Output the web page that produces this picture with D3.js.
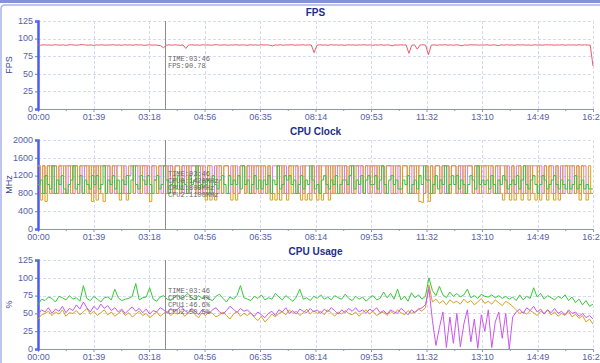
<!DOCTYPE html>
<html>
<head>
<meta charset="utf-8">
<title>Perf monitor</title>
<script src="https://cdn.jsdelivr.net/npm/d3@7"></script>
<style>
body{ margin:0; background:#fff; }
svg{ display:block; }
.tick-label{ font-family:"Liberation Sans", sans-serif; font-size:9px; fill:#5561a8; }
.title{ font-family:"Liberation Sans", sans-serif; font-size:10px; font-weight:bold; fill:#1e2e86; }
.ylab{ font-family:"Liberation Sans", sans-serif; font-size:9px; fill:#3a4a9a; }
.tip{ font-family:"Liberation Mono", monospace; font-size:7px; fill:#666; }
.grid{ stroke:#d6d9f2; stroke-width:1; stroke-dasharray:3,2; }
.series{ fill:none; stroke-width:1; }
</style>
</head>
<body>
<div id="chart"></div>
<script>
var W = 600, H = 363;
var totalSec = 988;     // 16:28
var xTickLabels = ["00:00","01:39","03:18","04:56","06:35","08:14","09:53","11:32","13:10","14:49","16:28"];
var cursorTime = 226;   // 03:46

// FPS (one sample every ~5 s)
var fpsValues = [
  91.0,90.6,91.2,90.8,91.1,90.5,91.3,90.9,90.7,91.1,90.4,91.0,91.4,90.8,90.6,91.2,91.5,90.9,90.7,91.0,
  90.3,91.1,90.8,91.2,90.6,91.0,90.9,91.3,90.7,91.1,90.5,91.2,90.8,91.0,90.6,91.3,90.9,91.1,90.4,90.8,
  91.2,90.7,91.0,90.5,89.9,87.0,90.78,91.1,90.6,91.2,90.8,90.4,91.0,86.0,90.9,91.2,90.7,91.0,90.5,91.3,
  90.8,91.1,90.6,91.0,91.4,90.7,90.9,91.2,90.5,91.0,90.8,91.3,90.6,91.1,90.9,90.4,91.2,90.8,91.0,90.6,
  91.3,90.9,91.1,90.7,89.6,91.0,90.8,91.2,90.5,91.1,90.9,91.3,90.6,91.0,90.8,91.2,90.7,91.1,90.9,80.0,
  90.6,91.2,90.8,91.0,90.5,91.3,90.9,91.1,90.7,91.0,90.4,91.2,90.8,91.1,90.6,91.0,90.9,91.3,90.7,91.1,
  90.5,91.0,90.8,91.2,90.6,91.1,90.9,89.8,91.0,90.7,91.2,90.8,91.0,79.0,90.5,91.1,85.0,90.9,91.2,90.7,
  77.0,90.8,91.1,90.6,91.0,90.9,91.3,90.7,91.1,90.5,91.2,90.8,89.7,91.0,90.6,91.3,90.9,91.1,90.7,91.0,
  90.8,91.2,90.5,91.0,90.9,89.9,91.1,90.7,91.3,90.8,91.0,90.6,91.2,90.9,91.1,90.7,91.0,90.5,91.2,90.8,
  91.0,90.6,91.3,90.9,91.1,90.7,91.0,90.8,91.2,90.6,91.1,90.9,91.0,90.7,91.3,90.8,91.1,90.9,90.7,61.0
];

// CPU clock, MHz (one sample every ~4.1 s)
var clockCpu0 = [
  1420,650,1420,620,1420,800,1420,1420,800,1420,1420,800,
  1420,1420,800,1420,1420,800,1420,1420,1420,800,1420,620,
  1420,650,1420,800,620,1420,1420,800,1420,1420,800,650,
  1420,800,650,1420,1420,800,1420,1420,800,1420,1420,800,
  620,1420,1420,800,1420,1420,1420,800,1420,1420,800,1420,
  1420,800,1420,1420,800,1420,1420,1420,800,1420,1420,800,
  650,1420,650,800,650,1420,1420,800,1420,1420,800,650,
  1420,650,800,1420,1420,800,1420,1420,800,1420,1420,800,
  1420,1420,800,1420,650,800,650,1420,650,1420,800,650,
  1420,800,1420,1420,800,650,1420,650,800,650,1420,800,
  650,1420,650,800,1420,650,1420,800,1420,1420,800,1420,
  1420,800,1420,1420,800,1420,1420,1420,800,1420,1420,800,
  1420,1420,800,1420,1420,800,1420,1420,1420,800,1420,1420,
  800,1420,1420,800,1420,1420,800,1420,620,600,800,1420,
  620,1420,800,1420,1420,800,1420,1420,1420,800,1420,1420,
  800,1420,1420,800,1420,1420,1420,800,1420,1420,800,1420,
  1420,800,1420,1420,800,1420,1420,800,650,1420,800,650,
  1420,650,800,1420,650,800,1420,650,1420,800,650,1420,
  650,800,1420,650,1420,800,650,1420,650,800,1420,1420,
  800,1420,1420,800,1420,650,1420,800,650,1420,800,800
];
var clockCpu1 = [
  1420,800,1420,800,1420,1420,800,1420,800,1420,800,1420,
  800,1420,1420,800,1420,800,1420,800,1420,1420,800,1420,
  800,1420,800,1420,1420,800,1420,800,1420,800,1420,1420,
  800,1420,800,1200,1420,800,1420,800,1420,1420,800,1420,
  800,1420,1100,800,1420,800,1420,1420,800,1420,800,1420,
  1420,800,1420,800,1420,800,1420,1420,800,1420,800,1420,
  800,1420,1420,800,1420,800,1420,800,1420,1420,800,1420,
  800,1420,800,1420,1420,800,1420,800,1420,800,1420,1420,
  800,1420,800,1420,800,1420,1420,800,1420,800,1420,800,
  1420,1420,800,1420,800,1420,800,1420,1420,800,1420,800,
  1420,800,1420,1420,800,1420,800,1420,800,1420,1420,800,
  1420,800,1420,800,1420,1420,800,1420,800,1420,800,1420,
  1420,800,1420,800,1420,800,1420,1420,800,1420,800,1420,
  800,1420,1420,800,1420,800,1420,800,1420,1420,800,1420,
  800,1420,800,1420,1420,800,1420,800,1420,800,1420,1420,
  800,1420,800,1420,800,1420,1420,800,1420,800,1420,800,
  1420,1420,800,1420,800,1420,800,1420,1420,800,1420,800,
  1420,800,1420,1420,800,1420,800,1420,800,1420,1420,800,
  1420,800,1420,800,1420,1420,800,1420,800,1420,800,1420,
  1420,800,1420,800,1420,800,1420,1420,800,800,800,800
];
var clockCpu2 = [
  1000,1100,800,1200,1000,900,1420,800,1100,1000,1200,900,
  800,1000,1100,1420,900,1000,1200,800,1100,1000,900,1200,
  1000,1200,900,1000,1420,800,1100,1000,1200,900,1100,800,
  1100,1000,1200,800,1100,1420,1000,900,1200,1100,1000,1200,
  1000,800,1100,1200,900,1000,1420,1100,800,1000,1100,900,
  1200,900,1100,1000,800,1200,1000,1100,1420,900,1000,1100,
  1000,1100,800,1200,1000,900,1100,1200,1000,800,1200,1000,
  1100,1000,1200,900,1420,1000,1100,800,1000,1200,900,1100,
  900,1100,1000,1200,800,1100,1000,1420,900,1000,1200,1100,
  1200,1000,1100,800,1000,1200,900,1100,1000,1420,1100,900,
  1000,800,1100,1200,1000,900,1100,1000,1200,800,1000,1100,
  1100,1000,1200,1420,900,1100,1000,1200,800,1100,1200,1000,
  1000,1200,900,1100,1420,1000,800,1100,1200,1000,1100,900,
  900,1100,1000,1200,800,1000,1100,900,1200,1000,1420,1100,
  1100,800,1000,1200,900,1100,1000,1420,800,1000,1200,1000,
  1200,900,1100,1000,800,1000,1200,1100,900,1420,1000,1100,
  1000,1100,900,1200,1000,800,1100,1000,1200,1100,900,1000,
  1100,1000,1200,900,1100,1420,1000,900,1100,1200,1000,800,
  1000,1200,1100,900,1000,1100,1200,1000,900,1100,1000,900,
  1100,900,1000,1200,900,1000,1100,900,1000,900,900,900
];

// CPU usage, % (one sample every ~6.2 s)
var usageCpu0 = [
  62,70,68,73,71,66,74,72,69,75,
  70,72,67,89,71,68,74,70,66,72,
  73,69,84,72,68,70,71,74,92,69,
  72,73,86,70,67,73,75,70,68,72,
  76,70,74,78,72,69,75,71,73,70,
  68,74,77,71,66,73,70,75,89,72,
  70,68,74,71,76,69,72,70,78,73,
  69,75,71,67,73,84,70,72,68,74,
  71,76,70,73,69,75,72,70,77,71,
  68,74,70,73,67,72,75,69,71,80,
  72,78,70,84,69,74,67,79,72,76,
  70,74,100,82,75,88,76,72,80,74,
  78,73,76,84,72,75,71,77,74,73,
  76,72,75,71,74,70,73,68,76,69,
  74,71,86,73,78,70,75,72,69,74,
  71,76,68,73,65,70,62,68,60,63
];
var usageCpu1 = [
  48,55,52,58,50,56,53,60,51,57,
  54,62,56,66,58,52,60,55,63,57,
  61,54,58,52,56,50,55,59,53,57,
  51,56,49,54,52,58,55,50,57,53,
  56,60,54,51,57,53,48,55,52,50,
  55,58,52,49,54,60,56,51,57,53,
  55,50,46,52,48,44,50,53,47,55,
  52,58,50,54,49,56,53,51,57,52,
  55,50,56,52,58,54,49,55,51,57,
  53,58,52,55,50,56,53,58,51,54,
  49,55,52,50,57,53,48,55,51,56,
  58,62,85,40,5,30,52,2,45,8,
  50,3,35,55,10,42,1,48,25,55,
  2,38,52,15,50,0,45,52,56,50,
  58,54,60,52,56,49,55,51,57,50,
  53,48,55,50,52,46,50,44,47,42
];
var usageCpu2 = [
  42,48,50,53,47,52,49,55,46,51,
  50,54,48,52,57,49,53,47,51,55,
  48,52,46,50,54,47,51,45,49,53,
  47,50,44,48,52,46,50,53,47,51,
  49,53,46,50,55,48,44,51,47,52,
  50,45,48,52,47,42,49,53,46,50,
  47,51,44,40,46,38,43,49,45,50,
  52,48,55,50,53,47,51,56,49,54,
  50,53,48,55,51,46,52,49,54,50,
  48,52,46,51,55,49,53,47,50,52,
  47,53,49,55,51,48,54,50,52,56,
  53,58,90,66,70,64,68,62,69,65,
  67,63,70,65,68,62,66,71,64,67,
  63,69,65,61,67,64,60,55,50,52,
  49,54,51,47,53,50,55,48,52,46,
  50,47,53,45,49,43,47,38,42,35
];

var fpsTip   = ["TIME:03:46", "FPS:90.78"];
var clockTip = ["TIME:03:46", "CPU0:1420MHz", "CPU1:800MHz", "CPU2:1100MHz"];
var usageTip = ["TIME:03:46", "CPU0:53.4%", "CPU1:46.6%", "CPU2:50.5%"];

var svg = d3.select('#chart').append('svg')
    .attr('width', W).attr('height', H);

// outer frame
svg.append('rect').attr('x', 0).attr('y', 0).attr('width', W).attr('height', 3).attr('fill', '#8593d6');
svg.append('path')
    .attr('d', 'M1,' + H + ' L1,9 Q1,5 5,5 L' + W + ',5')
    .attr('fill', 'none').attr('stroke', '#aab2e6').attr('stroke-width', 1.5);

var left = 38, right = 593;
var x = d3.scaleLinear().domain([0, totalSec]).range([left, right]);
var majorTicks = xTickLabels.map(function(d, i) { return i * totalSec / 10; });
var minorTicks = majorTicks.slice(0, -1).map(function(d) { return d + totalSec / 20; });

function timesFor(arr) {
    return arr.map(function(d, i) { return i * totalSec / (arr.length - 1); });
}

function panel(cfg) {
    var y = d3.scaleLinear().domain([0, cfg.max]).range([cfg.bottom, cfg.top]);
    var g = svg.append('g');
    var yTicks = d3.range(0, cfg.max + 1, cfg.step);

    g.append('text').attr('class', 'title')
        .attr('x', (left + right) / 2).attr('y', cfg.top - 5)
        .attr('text-anchor', 'middle').text(cfg.title);

    // grid
    g.selectAll('.hg').data(yTicks.slice(1)).enter().append('line')
        .attr('class', 'grid')
        .attr('x1', left).attr('x2', right)
        .attr('y1', function(d) { return Math.round(y(d)) + 0.5; })
        .attr('y2', function(d) { return Math.round(y(d)) + 0.5; });
    g.selectAll('.vg').data(majorTicks.slice(1)).enter().append('line')
        .attr('class', 'grid')
        .attr('x1', function(d) { return Math.round(x(d)) + 0.5; })
        .attr('x2', function(d) { return Math.round(x(d)) + 0.5; })
        .attr('y1', cfg.top).attr('y2', cfg.bottom);

    // x axis
    var xAxis = d3.axisBottom(x).tickValues(majorTicks)
        .tickFormat(function(d, i) { return xTickLabels[i]; })
        .tickSize(3).tickPadding(2);
    var ax = g.append('g').attr('transform', 'translate(0,' + cfg.bottom + ')').call(xAxis);
    ax.select('.domain').attr('stroke', '#8a92c6');
    ax.selectAll('.tick line').attr('stroke', '#8a92c6');
    ax.selectAll('text').attr('class', 'tick-label');
    g.append('g').attr('transform', 'translate(0,' + cfg.bottom + ')')
        .call(d3.axisBottom(x).tickValues(minorTicks).tickSize(2).tickFormat(''))
        .call(function(s) { s.select('.domain').remove(); s.selectAll('line').attr('stroke', '#8a92c6'); });

    // y axis
    var yAxis = d3.axisLeft(y).tickValues(yTicks).tickFormat(d3.format('d'))
        .tickSize(3).tickPadding(2);
    var ay = g.append('g').attr('transform', 'translate(' + left + ',0)').call(yAxis);
    ay.select('.domain').attr('stroke', '#4a5cf2').attr('stroke-width', 2.5);
    ay.selectAll('.tick line').attr('stroke', '#6a74c0');
    ay.selectAll('text').attr('class', 'tick-label').attr('dy', '0.25em');

    g.append('text').attr('class', 'ylab')
        .attr('transform', 'translate(12,' + (cfg.top + cfg.bottom) / 2 + ') rotate(-90)')
        .attr('text-anchor', 'middle').text(cfg.ylabel);

    // series
    cfg.series.forEach(function(s) {
        var ts = timesFor(s.values);
        var line = d3.line()
            .x(function(d, i) { return x(ts[i]); })
            .y(function(d) { return y(d); })
            .curve(cfg.step_curve ? d3.curveStepAfter : d3.curveLinear);
        g.append('path').datum(s.values)
            .attr('class', 'series')
            .attr('stroke', s.color)
            .attr('stroke-opacity', s.opacity || 1)
            .attr('d', line);
    });

    // cursor + readout
    g.append('line')
        .attr('x1', Math.round(x(cursorTime)) + 0.5).attr('x2', Math.round(x(cursorTime)) + 0.5)
        .attr('y1', cfg.top).attr('y2', cfg.bottom)
        .attr('stroke', '#8c8c8c').attr('stroke-width', 1);
    g.selectAll('.tip').data(cfg.tip).enter().append('text')
        .attr('class', 'tip')
        .attr('x', x(cursorTime) + 3)
        .attr('y', function(d, i) { return cfg.tipY + i * 7; })
        .text(function(d) { return d; });
}

panel({ title: 'FPS', ylabel: 'FPS', top: 21, bottom: 109, max: 125, step: 25,
        series: [{ values: fpsValues, color: '#ec5a70' }],
        tip: fpsTip, tipY: 61 });

panel({ title: 'CPU Clock', ylabel: 'MHz', top: 140, bottom: 229, max: 2000, step: 400,
        step_curve: true,
        series: [{ values: clockCpu1, color: '#d060ee', opacity: 0.85 },
                 { values: clockCpu0, color: '#dba11c' },
                 { values: clockCpu2, color: '#3cc43c' }],
        tip: clockTip, tipY: 176 });

panel({ title: 'CPU Usage', ylabel: '%', top: 260, bottom: 349, max: 125, step: 25,
        series: [{ values: usageCpu2, color: '#d9a020' },
                 { values: usageCpu1, color: '#cc55ee' },
                 { values: usageCpu0, color: '#36c936' }],
        tip: usageTip, tipY: 293 });
</script>
</body>
</html>
